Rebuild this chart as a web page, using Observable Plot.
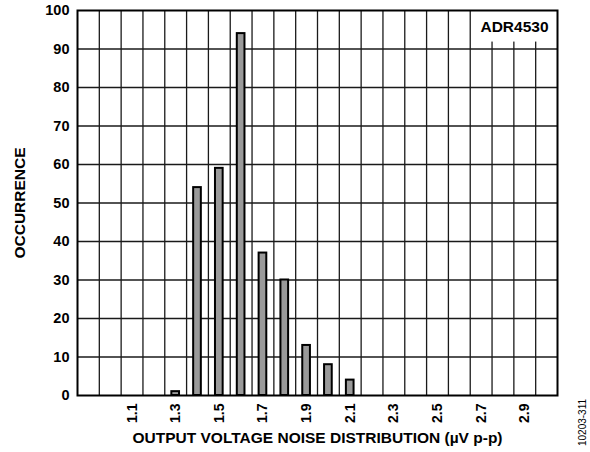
<!DOCTYPE html>
<html><head>
<meta charset="utf-8">
<script src="https://cdn.jsdelivr.net/npm/d3@7"></script>
<script src="https://cdn.jsdelivr.net/npm/@observablehq/plot@0.6"></script>
<style>body{margin:0;background:#fff}</style>
</head><body><div id="chart"></div>
<script>
// Data
const noise = [1.3, 1.4, 1.5, 1.6, 1.7, 1.8, 1.9, 2.0, 2.1];          // µV p-p bin centres
const occurrence = [1, 54, 59, 94, 37, 30, 13, 8, 4];
const xTicks = [1.1, 1.3, 1.5, 1.7, 1.9, 2.1, 2.3, 2.5, 2.7, 2.9];
const yTicks = [0, 10, 20, 30, 40, 50, 60, 70, 80, 90, 100];
const xGrid = [0.95, 1.05, 1.15, 1.25, 1.35, 1.45, 1.55, 1.65, 1.75, 1.85, 1.95, 2.05, 2.15, 2.25, 2.35, 2.45, 2.55, 2.65, 2.75, 2.85, 2.95];
const yGrid = [10, 20, 30, 40, 50, 60, 70, 80, 90];
const xDomain = [0.85, 3.05];
const yDomain = [0, 100];
const binHalf = 0.0176;
const legendBox = [{x1: 2.66, x2: 3.05, y1: 91.8, y2: 100}];
const title = "OUTPUT VOLTAGE NOISE DISTRIBUTION (µV p-p)";
const yTitle = "OCCURRENCE";
const device = "ADR4530";
const figId = "10203-311";

const data = noise.map((x, i) => ({x, y: occurrence[i]}));
const font = "Arial, 'Liberation Sans', Helvetica, sans-serif";

const chart = Plot.plot({
  width: 590,
  height: 452,
  marginLeft: 77,
  marginRight: 33,
  marginTop: 10,
  marginBottom: 57,
  style: {fontFamily: font, background: "#fff", color: "#000"},
  x: {domain: xDomain},
  y: {domain: yDomain},
  marks: [
    Plot.ruleX(xGrid, {stroke: "#1a1a1a", strokeWidth: 1.3}),
    Plot.ruleY(yGrid, {stroke: "#1a1a1a", strokeWidth: 1.3}),
    Plot.rect(legendBox, {x1: "x1", x2: "x2", y1: "y1", y2: "y2", fill: "#fff"}),
    Plot.rectY(data, {x1: d => d.x - binHalf, x2: d => d.x + binHalf, y1: 0, y2: "y", fill: "#9a9a9a", stroke: "#000", strokeWidth: 2}),
    Plot.frame({stroke: "#000", strokeWidth: 2}),
    Plot.axisY({ticks: yTicks, tickSize: 0, tickPadding: 8, label: null, fontSize: 14.5, fontWeight: "bold"}),
    Plot.axisX({ticks: xTicks, tickSize: 0, tickPadding: 8, tickRotate: -90, label: null, fontSize: 14, fontWeight: "bold", tickFormat: d => d.toFixed(1)}),
    Plot.text([yTitle], {frameAnchor: "left", dx: -57, rotate: -90, fontSize: 15.5, fontWeight: "bold", textAnchor: "middle", lineAnchor: "middle"}),
    Plot.text([title], {frameAnchor: "bottom", dy: 43, fontSize: 15.5, fontWeight: "bold", textAnchor: "middle", lineAnchor: "middle"}),
    Plot.text([device], {frameAnchor: "top-right", dx: -43, dy: 17, fontSize: 15.5, fontWeight: "bold", textAnchor: "middle", lineAnchor: "middle"}),
    Plot.text([figId], {frameAnchor: "bottom-right", dx: 25, dy: 27, rotate: -90, fontSize: 10, textAnchor: "middle", lineAnchor: "middle"})
  ]
});
document.getElementById("chart").appendChild(chart);
</script>
</body></html>
